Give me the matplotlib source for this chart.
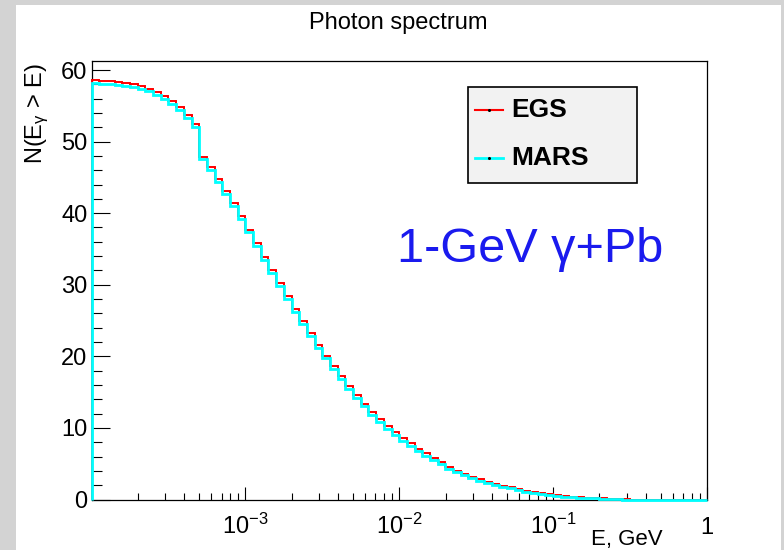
import numpy as np
import matplotlib.pyplot as plt
from matplotlib.patches import Rectangle
from matplotlib.lines import Line2D
from matplotlib.ticker import FixedLocator, NullFormatter

plt.rcParams['font.family'] = ['Liberation Sans', 'DejaVu Sans']
plt.rcParams['mathtext.fontset'] = 'custom'
plt.rcParams['mathtext.rm'] = 'Liberation Sans'
plt.rcParams['mathtext.it'] = 'Liberation Sans:italic'
plt.rcParams['mathtext.default'] = 'regular'

# log binning, 20 bins per decade, 1e-4 .. 1 GeV
e_edges = np.logspace(-4, 0, 81)

# N(E_gamma > E), one value per bin
n_egs = [
    58.6, 58.5, 58.45, 58.3, 58.2, 58.0, 57.75, 57.4, 56.95, 56.4,
    55.7, 54.8, 53.7, 52.4, 47.9, 46.5, 44.8, 43.1, 41.4, 39.6,
    37.7, 35.8, 33.9, 32.0, 30.2, 28.4, 26.6, 24.9, 23.2, 21.6,
    20.1, 18.6, 17.2, 15.8, 14.6, 13.4, 12.2, 11.2, 10.2, 9.4,
    8.6, 7.9, 7.1, 6.45, 5.8, 5.2, 4.55, 4.0, 3.6, 3.2,
    2.85, 2.5, 2.2, 1.95, 1.7, 1.42, 1.2, 1.02, 0.87, 0.72,
    0.58, 0.48, 0.39, 0.31, 0.25, 0.2, 0.14, 0.1, 0.05, 0.02,
    0, 0, 0, 0, 0, 0, 0, 0, 0, 0,
]
n_mars = [
    58.2, 58.1, 58.05, 57.9, 57.8, 57.6, 57.35, 57.0, 56.55, 56.0,
    55.3, 54.4, 53.3, 52.0, 47.6, 46.1, 44.4, 42.7, 41.0, 39.2,
    37.3, 35.4, 33.5, 31.6, 29.8, 28.0, 26.2, 24.5, 22.8, 21.2,
    19.7, 18.2, 16.8, 15.4, 14.2, 13.0, 11.8, 10.8, 9.8, 9.0,
    8.2, 7.5, 6.8, 6.1, 5.5, 4.9, 4.3, 3.8, 3.4, 3.0,
    2.65, 2.35, 2.05, 1.8, 1.55, 1.3, 1.1, 0.93, 0.78, 0.64,
    0.5, 0.4, 0.32, 0.25, 0.19, 0.14, 0.09, 0.05, 0.02, 0.0,
    0, 0, 0, 0, 0, 0, 0, 0, 0, 0,
]

W, H = 784, 550


def fx(px):
    return px / W


def fy(py):
    return 1 - py / H


fig = plt.figure(figsize=(W / 100, H / 100), dpi=100, facecolor='#d3d3d3')
fig.patches.append(Rectangle((fx(16), 0), fx(781) - fx(16), fy(5),
                             transform=fig.transFigure, facecolor='white',
                             edgecolor='none', zorder=-10))

ax = fig.add_axes([fx(91.5), fy(499.5), fx(707) - fx(91.5), fy(60.7) - fy(499.5)])
ax.set_xscale('log')
ax.set_xlim(1e-4, 1)
ax.set_ylim(0, 61.3)

ax.stairs(n_egs, e_edges, baseline=0, color='red', lw=1.4, zorder=3, clip_on=False)
ax.stairs(n_mars, e_edges, baseline=0, color='cyan', lw=2.0, zorder=4, clip_on=False)

for s in ax.spines.values():
    s.set_linewidth(0.9)

# y axis
ax.set_yticks(range(0, 61, 10))
ax.yaxis.set_minor_locator(FixedLocator([v for v in range(0, 61, 2) if v % 10]))
ax.tick_params(axis='y', which='major', direction='in', length=13, width=0.8,
               labelsize=17, pad=3, right=False)
ax.tick_params(axis='y', which='minor', direction='in', length=7.2, width=0.8, right=False)

# x axis
ax.set_xticks([1e-3, 1e-2, 1e-1, 1], labels=['$10^{-3}$', '$10^{-2}$', '$10^{-1}$', '1'])
ax.xaxis.set_minor_locator(FixedLocator([k * 10.0 ** d for d in range(-4, 0) for k in range(2, 10)]))
ax.xaxis.set_minor_formatter(NullFormatter())
ax.tick_params(axis='x', which='major', direction='in', length=9.4, width=0.8,
               labelsize=17, pad=24.8, top=False)
ax.tick_params(axis='x', which='minor', direction='in', length=5.4, width=0.8, top=False)
for lab in ax.get_xticklabels():
    lab.set_verticalalignment('baseline')

ax.set_xlabel('E, GeV', fontsize=16, loc='right')
ax.xaxis.set_label_coords((663 - 91.5) / 615.5, (499.5 - 545) / 438.8)
ax.xaxis.label.set_va('baseline')

ax.set_ylabel(r'N(E$_{\gamma}$ > E)', fontsize=17, loc='top')
ax.yaxis.set_label_coords((42 - 91.5) / 615.5, (499.5 - 63) / 438.8)
ax.yaxis.label.set_va('baseline')

fig.text(fx(398), fy(29.5), 'Photon spectrum', fontsize=17, ha='center', va='baseline')

# legend box
fig.patches.append(Rectangle((fx(468), fy(183)), fx(637) - fx(468), fy(87) - fy(183),
                             transform=fig.transFigure, facecolor='#f2f2f2',
                             edgecolor='black', lw=1.2, zorder=5))
fig.lines.append(Line2D([fx(475), fx(489), fx(503)], [fy(110)] * 3, transform=fig.transFigure,
                        color='red', lw=1.5, marker='o', markevery=[1], ms=1.2,
                        mfc='black', mec='black', zorder=6))
fig.lines.append(Line2D([fx(475), fx(489), fx(503)], [fy(158)] * 3, transform=fig.transFigure,
                        color='cyan', lw=2.0, marker='o', markevery=[1], ms=1.2,
                        mfc='black', mec='black', zorder=6))
fig.text(fx(511), fy(110), 'EGS', fontsize=19, fontweight='bold', va='center', zorder=7)
fig.text(fx(511), fy(158), 'MARS', fontsize=19, fontweight='bold', va='center', zorder=7)

fig.text(fx(397), fy(262), '1-GeV γ+Pb', fontsize=35, color='#1a1aee', va='baseline')

fig.savefig('out.png', dpi=100, facecolor=fig.get_facecolor())
